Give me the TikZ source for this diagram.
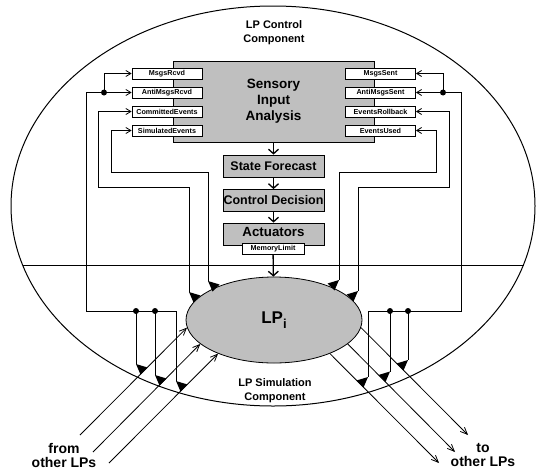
\documentclass[tikz,border=0pt]{standalone}
\usepackage{fontspec}
\setmainfont{Liberation Sans}
\usetikzlibrary{arrows.meta,shapes.geometric}
\definecolor{boxgray}{gray}{0.75}
\begin{document}
\begin{tikzpicture}[x=1pt,y=-1pt,line width=0.8pt,
  gbox/.style={draw,fill=boxgray,inner sep=0pt,minimum width=101pt,minimum height=22pt,
    font=\bfseries\fontsize{12.5pt}{14pt}\selectfont},
  sbox/.style={draw,fill=white,inner sep=0pt,minimum width=70pt,minimum height=11pt,
    font=\bfseries\fontsize{7.2pt}{8pt}\selectfont},
  lbl/.style={align=center,font=\bfseries\fontsize{11pt}{14pt}\selectfont},
  biglbl/.style={align=center,font=\bfseries\fontsize{14pt}{14pt}\selectfont},
  sarr/.style={-{Straight Barb[length=5pt,width=6pt]}},
  darr/.style={line width=1.3pt,-{Straight Barb[length=4.5pt,width=10pt]}},
  marr/.style={-{Straight Barb[length=7pt,width=6pt]}}]
\useasboundingbox (0,0) rectangle (537,471);
\draw[line width=1pt] (273,206) ellipse [x radius=262pt,y radius=200pt];
\draw (22.5,265) -- (523.5,265);
\node[lbl] (ctl) at (274,33) {LP Control\\Component};
\node[lbl] (sim) at (275,391) {LP Simulation\\Component};
\node[biglbl] (from) at (64,455) {from\\other LPs};
\node[biglbl] (to) at (483,455) {to\\other LPs};
\node[gbox,minimum height=81pt,minimum width=201pt,text depth=4pt,
  font=\bfseries\fontsize{13.5pt}{16pt}\selectfont,align=center] (sia) at (273.5,101.5) {Sensory\\Input\\Analysis};
\node[sbox] (mrcvd) at (167,73.5) {MsgsRcvd};
\node[sbox] (amrcvd) at (167,92.5) {AntiMsgsRcvd};
\node[sbox] (cev) at (167,111.5) {CommittedEvents};
\node[sbox] (sev) at (167,130.5) {SimulatedEvents};
\node[sbox] (msent) at (380.5,73.5) {MsgsSent};
\node[sbox] (amsent) at (380.5,92.5) {AntiMsgsSent};
\node[sbox] (erb) at (380.5,111.5) {EventsRollback};
\node[sbox] (eus) at (380.5,130.5) {EventsUsed};
\node[gbox] (sf) at (273.5,166) {State Forecast};
\node[gbox] (cd) at (273.5,200.5) {Control Decision};
\node[gbox,font=\bfseries\fontsize{13.3pt}{15pt}\selectfont,text depth=5pt] (act) at (273.5,234) {Actuators};
\node[sbox,minimum width=62pt] (mem) at (273,248.5) {MemoryLimit};
\node[ellipse,draw,fill=boxgray,inner sep=0pt,minimum width=176pt,minimum height=86pt] (lp) at (274,320)
  {\bfseries\fontsize{17pt}{18pt}\selectfont LP\raisebox{-5pt}{\fontsize{13pt}{14pt}\selectfont i}};
\draw[darr] (sia) -- (sf);
\draw[darr] (sf) -- (cd);
\draw[darr] (cd) -- (act);
\draw[darr] (mem) -- (lp);
\coordinate (dL) at (104,92.5);
\coordinate (dR) at (443,92.5);
\coordinate (jL1) at (136,311);
\coordinate (jL2) at (155,311);
\coordinate (jL3) at (176,311);
\coordinate (jR1) at (408,311);
\coordinate (jR2) at (390,311);
\coordinate (jR3) at (368,311);
\coordinate (tL1) at (189,292);
\coordinate (tL2) at (208,281);
\coordinate (tR1) at (339,280);
\coordinate (tR2) at (358,291);
\coordinate (pL1) at (136,364);
\coordinate (pL2) at (155,375);
\coordinate (pL3) at (176,381);
\coordinate (pR1) at (408,360);
\coordinate (pR2) at (390,371.5);
\coordinate (pR3) at (368,377);
\coordinate (in1) at (80,435);
\coordinate (in2) at (93,452);
\coordinate (in3) at (109,463);
\coordinate (out1) at (468,435);
\coordinate (out2) at (455,452);
\coordinate (out3) at (439,463);
\draw[sarr] (dL) |- (mrcvd);
\draw[sarr] (dL) -- (amrcvd);
\draw (dL) -- (86,92.5) |- (jL3) -- (pL3);
\draw (jL1) -- (pL1);
\draw (jL2) -- (pL2);
\draw[sarr] (tL1) |- (98,187) |- (cev);
\draw[sarr] (tL2) |- (111,172) |- (sev);
\draw[sarr] (dR) |- (msent);
\draw[sarr] (dR) -- (amsent);
\draw (dR) -- (461,92.5) |- (jR3) -- (pR3);
\draw (jR1) -- (pR1);
\draw (jR2) -- (pR2);
\draw[sarr] (tR2) |- (449,187) |- (erb);
\draw[sarr] (tR1) |- (436,172) |- (eus);
\draw[marr] (in1) -- (lp.185);
\draw[marr] (in2) -- (lp.198);
\draw[marr] (in3) -- (lp.211);
\draw[marr] (lp.-5) -- (out1);
\draw[marr] (lp.-18) -- (out2);
\draw[marr] (lp.-31) -- (out3);
\foreach \p in {dL,dR,jL1,jL2,jR1,jR2}
  \fill (\p) circle[radius=3pt];
\foreach \p in {tL1,tL2,pL1,pL2,pL3}
  \fill (\p) -- ++(4.5,10.5) -- ++(7,-7) -- cycle;
\foreach \p in {tR1,tR2,pR1,pR2,pR3}
  \fill (\p) -- ++(-4.5,10.5) -- ++(-7,-7) -- cycle;
\end{tikzpicture}
\end{document}
